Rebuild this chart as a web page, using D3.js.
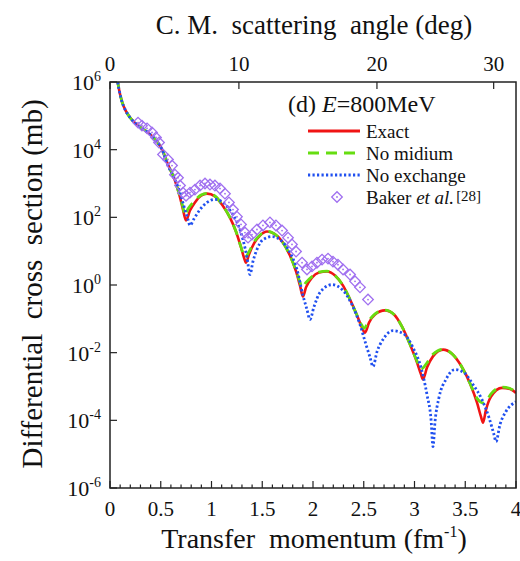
<!DOCTYPE html>
<html lang="en">
<head>
<meta charset="UTF-8">
<title>Differential cross section</title>
<script src="https://cdn.jsdelivr.net/npm/d3@7/dist/d3.min.js"></script>
<style>
  body { margin: 0; background: #fff; }
  svg text { font-family: "Liberation Serif", "Times New Roman", Times, serif; fill: #111; white-space: pre; }
</style>
</head>
<body>
<svg id="main" width="520" height="561"></svg>
<script>
// momentum transfer (fm^-1) and log10 of cross section (mb)
const qExact = [0.069,0.089,0.118,0.148,0.197,0.266,0.345,0.443,0.512,0.571,0.640,0.690,0.719,0.749,0.788,0.837,0.897,0.956,1.034,1.103,1.182,1.241,1.291,1.320,1.340,1.369,1.419,1.478,1.547,1.616,1.695,1.773,1.833,1.872,1.901,1.931,1.990,2.059,2.138,2.217,2.296,2.365,2.434,2.483,2.512,2.552,2.611,2.709,2.798,2.877,2.956,3.025,3.064,3.084,3.123,3.182,3.281,3.369,3.458,3.547,3.616,3.655,3.675,3.704,3.754,3.862,3.941,4.0];
const lExact = [6.13,5.78,5.42,5.19,4.95,4.74,4.57,4.31,4.01,3.56,3.09,2.59,2.23,1.91,2.20,2.44,2.64,2.70,2.62,2.38,1.99,1.58,1.11,0.81,0.66,0.90,1.23,1.46,1.58,1.52,1.29,0.87,0.40,-0.02,-0.34,-0.07,0.22,0.37,0.40,0.28,-0.02,-0.43,-0.90,-1.26,-1.41,-1.11,-0.87,-0.75,-0.87,-1.23,-1.76,-2.29,-2.64,-2.79,-2.44,-2.11,-1.91,-2.03,-2.38,-2.91,-3.48,-3.89,-4.07,-3.69,-3.30,-3.04,-3.07,-3.19];

const qNoMed = [0.069,0.089,0.118,0.148,0.197,0.266,0.345,0.443,0.512,0.571,0.640,0.690,0.719,0.739,0.768,0.788,0.837,0.897,0.956,1.034,1.103,1.182,1.241,1.291,1.330,1.369,1.419,1.478,1.547,1.616,1.695,1.773,1.833,1.872,1.892,1.931,1.990,2.059,2.138,2.217,2.296,2.365,2.434,2.483,2.502,2.552,2.611,2.709,2.798,2.877,2.956,3.025,3.064,3.123,3.182,3.281,3.369,3.458,3.547,3.616,3.685,3.725,3.754,3.862,3.941,4.0];
const lNoMed = [6.13,5.78,5.42,5.19,4.95,4.74,4.57,4.31,4.01,3.56,3.09,2.60,2.30,2.05,2.25,2.33,2.50,2.66,2.71,2.63,2.38,1.99,1.58,1.12,0.81,0.98,1.27,1.48,1.59,1.52,1.29,0.87,0.42,0.08,-0.07,0.08,0.25,0.38,0.41,0.28,-0.02,-0.43,-0.90,-1.20,-1.28,-1.05,-0.85,-0.74,-0.87,-1.23,-1.76,-2.25,-2.49,-2.30,-2.05,-1.90,-2.03,-2.38,-2.91,-3.35,-3.49,-3.35,-3.22,-3.02,-3.06,-3.17];

const qNoEx = [0.069,0.089,0.118,0.148,0.197,0.266,0.345,0.443,0.512,0.571,0.640,0.690,0.729,0.768,0.788,0.828,0.887,0.956,1.034,1.113,1.192,1.261,1.310,1.350,1.379,1.408,1.448,1.507,1.596,1.675,1.773,1.842,1.901,1.941,1.970,2.010,2.069,2.187,2.286,2.384,2.463,2.522,2.562,2.591,2.631,2.690,2.788,2.887,2.985,3.064,3.123,3.163,3.182,3.202,3.241,3.310,3.399,3.488,3.576,3.665,3.734,3.783,3.803,3.842,3.901,4.0];
const lNoEx = [6.13,5.78,5.42,5.19,4.95,4.74,4.57,4.31,4.01,3.53,3.12,2.73,2.32,1.94,1.76,1.96,2.23,2.44,2.53,2.44,2.17,1.79,1.34,0.81,0.31,0.69,1.05,1.34,1.43,1.34,0.96,0.46,-0.31,-0.73,-1.02,-0.64,-0.22,0.01,-0.13,-0.58,-1.17,-1.76,-2.14,-2.41,-1.97,-1.61,-1.35,-1.43,-1.85,-2.44,-3.24,-3.98,-4.78,-4.04,-3.33,-2.79,-2.50,-2.59,-2.94,-3.39,-3.92,-4.42,-4.63,-4.13,-3.74,-3.45];

const qBaker = [0.276,0.315,0.365,0.414,0.453,0.483,0.522,0.571,0.611,0.640,0.670,0.690,0.719,0.749,0.788,0.837,0.887,0.936,0.985,1.034,1.084,1.133,1.172,1.212,1.251,1.291,1.330,1.360,1.399,1.448,1.507,1.576,1.635,1.695,1.754,1.793,1.833,1.892,1.941,1.990,2.039,2.089,2.148,2.197,2.246,2.296,2.365,2.414,2.463,2.542];
const lBaker = [4.80,4.71,4.63,4.51,4.36,4.21,3.86,3.71,3.53,3.26,3.17,2.94,2.73,2.64,2.73,2.82,2.94,3.00,2.97,2.94,2.85,2.70,2.44,2.23,2.02,1.79,1.55,1.40,1.49,1.64,1.76,1.85,1.76,1.61,1.40,1.20,0.99,0.66,0.46,0.55,0.66,0.75,0.78,0.69,0.60,0.46,0.31,0.11,-0.07,-0.43];

const xTickVals = [0, 0.5, 1, 1.5, 2, 2.5, 3, 3.5, 4];
const xTickLabels = ['0', '0.5', '1', '1.5', '2', '2.5', '3', '3.5', '4'];
const yTickExps = [-6, -4, -2, 0, 2, 4, 6];
const angleTicks = ['0', '10', '20', '30'];
const angleTickQ = [0, 1.27, 2.63, 3.78];   // where the angle ticks sit on the momentum axis

const legendItems = ['Exact', 'No midium', 'No exchange'];

let svg = d3.select('svg#main');
let pLeft = 110, pRight = 516, pTop = 82, pBottom = 488;

let x = d3.scaleLinear().domain([0, 4]).range([pLeft, pRight]);
let y = d3.scaleLog().domain([1e-6, 1e6]).range([pBottom, pTop]);

function pts(qs, ls) {
    return qs.map((q, i) => ({q: q, s: Math.pow(10, ls[i])}));
}

svg.append('clipPath').attr('id', 'plotclip')
    .append('rect').attr('x', pLeft).attr('y', pTop)
    .attr('width', pRight - pLeft).attr('height', pBottom - pTop);

let line = d3.line()
    .x(d => x(d.q))
    .y(d => y(d.s))
    .curve(d3.curveMonotoneX);

let plot = svg.append('g').attr('clip-path', 'url(#plotclip)');

plot.append('path').datum(pts(qExact, lExact))
    .attr('fill', 'none').attr('stroke', '#f01414').attr('stroke-width', 2.6)
    .attr('d', line);
plot.append('path').datum(pts(qNoMed, lNoMed))
    .attr('fill', 'none').attr('stroke', '#66dd11').attr('stroke-width', 2.8)
    .attr('stroke-dasharray', '11,7')
    .attr('d', line);
plot.append('path').datum(pts(qNoEx, lNoEx))
    .attr('fill', 'none').attr('stroke', '#2050f0').attr('stroke-width', 2.8)
    .attr('stroke-dasharray', '2.2,2.3')
    .attr('d', line);

let diamond = d3.symbol().type(d3.symbolSquare).size(56);
let marks = plot.selectAll('g.baker').data(pts(qBaker, lBaker))
    .enter().append('g')
    .attr('class', 'baker')
    .attr('transform', d => 'translate(' + x(d.q) + ',' + y(d.s) + ')');
marks.append('path').attr('d', diamond).attr('transform', 'rotate(45)')
    .attr('fill', 'none').attr('stroke', '#a070f0').attr('stroke-width', 1.3);
marks.append('circle').attr('r', 0.9).attr('fill', '#a070f0');

// frame
svg.append('rect').attr('x', pLeft).attr('y', pTop)
    .attr('width', pRight - pLeft).attr('height', pBottom - pTop)
    .attr('fill', 'none').attr('stroke', '#222').attr('stroke-width', 1.5);

// bottom ticks (minor every 0.1)
let minor = d3.range(0, 41).map(i => i / 10);
svg.selectAll('.xtick').data(minor).enter().append('line')
    .attr('class', 'xtick')
    .attr('x1', d => x(d)).attr('x2', d => x(d))
    .attr('y1', pBottom)
    .attr('y2', (d, i) => pBottom - (i % 5 === 0 ? 7 : 3.5))
    .attr('stroke', '#222').attr('stroke-width', 1.2);

svg.selectAll('.xlab').data(xTickVals).enter().append('text')
    .attr('class', 'xlab')
    .attr('x', d => x(d)).attr('y', 516)
    .attr('text-anchor', 'middle').style('font-size', '21px')
    .text((d, i) => xTickLabels[i]);

// left ticks
svg.selectAll('.ytick').data(yTickExps).enter().append('line')
    .attr('class', 'ytick')
    .attr('x1', pLeft).attr('x2', pLeft + 7)
    .attr('y1', d => y(Math.pow(10, d))).attr('y2', d => y(Math.pow(10, d)))
    .attr('stroke', '#222').attr('stroke-width', 1.2);

let ylab = svg.selectAll('.ylab').data(yTickExps).enter().append('text')
    .attr('class', 'ylab')
    .attr('x', 101).attr('y', d => y(Math.pow(10, d)) + 8)
    .attr('text-anchor', 'end').style('font-size', '22px');
ylab.append('tspan').text('10');
ylab.append('tspan').attr('dy', -9).style('font-size', '14px').text(d => d);

// top axis: c.m. angle
svg.selectAll('.ttick').data(angleTickQ).enter().append('line')
    .attr('class', 'ttick')
    .attr('x1', d => x(d)).attr('x2', d => x(d))
    .attr('y1', pTop).attr('y2', pTop + 7)
    .attr('stroke', '#222').attr('stroke-width', 1.2);
svg.selectAll('.tlab').data(angleTickQ).enter().append('text')
    .attr('class', 'tlab')
    .attr('x', d => x(d)).attr('y', 71)
    .attr('text-anchor', 'middle').style('font-size', '21px')
    .text((d, i) => angleTicks[i]);

// axis titles
svg.append('text').attr('x', 314).attr('y', 34)
    .attr('text-anchor', 'middle').style('font-size', '27px')
    .text('C. M.  scattering  angle (deg)');

let xt = svg.append('text').attr('x', 314).attr('y', 548)
    .attr('text-anchor', 'middle').style('font-size', '28px');
xt.append('tspan').text('Transfer  momentum (fm');
xt.append('tspan').attr('dy', -11).style('font-size', '16px').text('-1');
xt.append('tspan').attr('dy', 11).text(')');

svg.append('text')
    .attr('transform', 'translate(42,284) rotate(-90)')
    .attr('text-anchor', 'middle').style('font-size', '29px')
    .text('Differential  cross  section (mb)');

// legend
let hdr = svg.append('text').attr('x', 288).attr('y', 112).style('font-size', '24px');
hdr.append('tspan').text('(d) ');
hdr.append('tspan').style('font-style', 'italic').text('E');
hdr.append('tspan').text('=800MeV');

const legY = [131, 153, 175, 197];
const legStyles = [
    {c: '#f01414', dash: null},
    {c: '#66dd11', dash: '11,7'},
    {c: '#2050f0', dash: '2.2,2.3'}
];
let leg = svg.selectAll('.leg').data(legendItems).enter().append('g').attr('class', 'leg');
leg.append('line')
    .attr('x1', 308).attr('x2', 360)
    .attr('y1', (d, i) => legY[i]).attr('y2', (d, i) => legY[i])
    .attr('stroke', (d, i) => legStyles[i].c).attr('stroke-width', 2.8)
    .attr('stroke-dasharray', (d, i) => legStyles[i].dash);
leg.append('text').attr('x', 366).attr('y', (d, i) => legY[i] + 7)
    .style('font-size', '19px').text(d => d);

let bk = svg.append('g').attr('transform', 'translate(337,' + legY[3] + ')');
bk.append('path').attr('d', diamond).attr('transform', 'rotate(45)')
    .attr('fill', 'none').attr('stroke', '#a070f0').attr('stroke-width', 1.3);
bk.append('circle').attr('r', 0.9).attr('fill', '#a070f0');
let bt = svg.append('text').attr('x', 366).attr('y', legY[3] + 7).style('font-size', '19px');
bt.append('tspan').text('Baker ');
bt.append('tspan').style('font-style', 'italic').text('et al.');
bt.append('tspan').attr('dx', 2).attr('dy', -3).style('font-size', '15px').text('[28]');
</script>
</body>
</html>
